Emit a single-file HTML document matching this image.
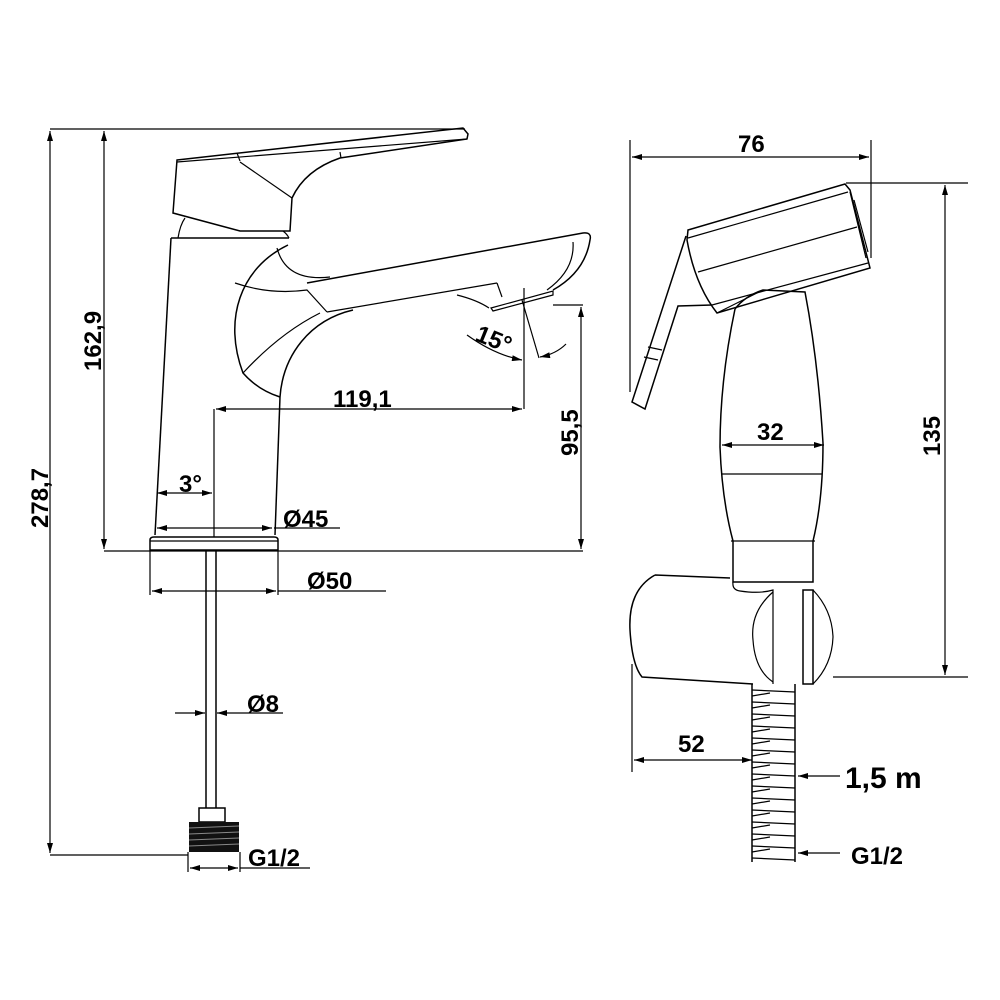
<!DOCTYPE html>
<html><head><meta charset="utf-8"><style>
html,body{margin:0;padding:0;background:#fff;}
svg{display:block;}
text{font-family:"Liberation Sans",sans-serif;font-weight:bold;fill:#000;}
</style></head><body>
<svg width="1000" height="1000" viewBox="0 0 1000 1000" xmlns="http://www.w3.org/2000/svg">
<defs>
<marker id="a" viewBox="0 0 10 6" refX="10" refY="3" markerWidth="14" markerHeight="6" markerUnits="userSpaceOnUse" orient="auto-start-reverse"><path d="M0,0 L10,3 L0,6 Z" fill="#000"/></marker>
</defs>
<g fill="none" stroke="#000" stroke-width="1.2">
<line x1="50" y1="129" x2="465" y2="129"/>
<line x1="104" y1="551" x2="583" y2="551"/>
<line x1="50" y1="855" x2="188" y2="855"/>
<line x1="214" y1="409" x2="214" y2="537"/>
<line x1="340" y1="528" x2="274" y2="528"/>
<line x1="150" y1="551" x2="150" y2="595"/>
<line x1="278" y1="551" x2="278" y2="595"/>
<line x1="278" y1="591" x2="386" y2="591"/>
<line x1="188" y1="852" x2="188" y2="872"/>
<line x1="240" y1="852" x2="240" y2="872"/>
<line x1="240" y1="868" x2="310" y2="868"/>
<line x1="583" y1="305" x2="553" y2="305"/>
<line x1="50" y1="131" x2="50" y2="853" marker-start="url(#a)" marker-end="url(#a)"/>
<line x1="104" y1="131" x2="104" y2="549" marker-start="url(#a)" marker-end="url(#a)"/>
<line x1="581" y1="307" x2="581" y2="549" marker-start="url(#a)" marker-end="url(#a)"/>
<line x1="216" y1="409" x2="522" y2="409" marker-start="url(#a)" marker-end="url(#a)"/>
<line x1="157" y1="493" x2="212" y2="493" marker-start="url(#a)" marker-end="url(#a)"/>
<line x1="157" y1="528" x2="272" y2="528" marker-start="url(#a)" marker-end="url(#a)"/>
<line x1="152" y1="591" x2="276" y2="591" marker-start="url(#a)" marker-end="url(#a)"/>
<line x1="175" y1="713" x2="205" y2="713" marker-end="url(#a)"/>
<line x1="283" y1="713" x2="217" y2="713" marker-end="url(#a)"/>
<line x1="190" y1="868" x2="238" y2="868" marker-start="url(#a)" marker-end="url(#a)"/>
<line x1="524" y1="288" x2="524" y2="409"/>
<line x1="522" y1="300" x2="539" y2="358"/>
<path d="M467,335 Q495,355 522,360" marker-end="url(#a)"/>
<path d="M566,344 Q556,354 540,357" marker-end="url(#a)"/>
<path d="M177,160 L463,128 L468,134 L467,139 L340,158 Q305,170 292,198 L290,231 L240,231 L173,213 Z" stroke-width="1.5"/>
<line x1="177" y1="162" x2="467" y2="139"/>
<line x1="237" y1="153" x2="240" y2="161"/>
<line x1="340" y1="152" x2="341" y2="158"/>
<line x1="240" y1="162" x2="292" y2="198"/>
<path d="M178,238 Q180,225 185,218"/>
<path d="M283,231 Q287,234 289,238"/>
<path d="M171,238 L289,238" stroke-width="1.5"/>
<path d="M171,238 L155,535" stroke-width="1.5"/>
<path d="M280,397 L275,535" stroke-width="1.5"/>
<path d="M288,245 C240,268 223,320 243,373 Q258,390 280,397" stroke-width="1.5"/>
<path d="M277,248 Q286,282 330,277"/>
<path d="M235,283 Q270,295 307,290 L327,312"/>
<path d="M307,283 L583,233 Q592,232 590,240 Q585,272 553,290" stroke-width="1.5"/>
<path d="M573,242 Q575,270 547,290"/>
<path d="M327,312 L497,283"/>
<path d="M497,283 L502,297"/>
<path d="M457,295 Q477,300 489,308"/>
<path d="M491,308 L553,291 L553,295 L493,311 Z"/>
<path d="M320,313 Q280,333 243,373"/>
<path d="M353,310 C310,320 283,355 280,397" stroke-width="1.5"/>
<path d="M150,550 L150,540 Q150,537 154,537 L274,537 Q278,537 278,540 L278,550 Z" stroke-width="1.5"/>
<line x1="150" y1="541" x2="278" y2="541"/>
<line x1="206" y1="551" x2="206" y2="808" stroke-width="1.5"/>
<line x1="216" y1="551" x2="216" y2="808" stroke-width="1.5"/>
<rect x="199" y="808" width="26" height="14" stroke-width="1.5"/>
</g>
<rect x="189" y="822" width="50" height="30" fill="#111"/>
<g stroke="#888" stroke-width="1">
<line x1="189" y1="828" x2="239" y2="826"/><line x1="189" y1="834" x2="239" y2="832"/><line x1="189" y1="840" x2="239" y2="838"/><line x1="189" y1="846" x2="239" y2="844"/>
</g>
<g font-size="24">
<text transform="translate(48,528) rotate(-90)">278,7</text>
<text transform="translate(101,371) rotate(-90)">162,9</text>
<text transform="translate(578,456) rotate(-90)">95,5</text>
<text x="333" y="407">119,1</text>
<text x="179" y="492">3°</text>
<text x="283" y="527">Ø45</text>
<text x="307" y="589">Ø50</text>
<text x="247" y="712">Ø8</text>
<text x="248" y="866">G1/2</text>
<text transform="translate(474,340) rotate(22)">15°</text>
</g>
<!-- SHOWER -->
<g fill="none" stroke="#000" stroke-width="1.2">
<line x1="630" y1="140" x2="630" y2="392"/>
<line x1="871" y1="140" x2="871" y2="258"/>
<line x1="632" y1="157" x2="869" y2="157" marker-start="url(#a)" marker-end="url(#a)"/>
<line x1="846" y1="183" x2="968" y2="183"/>
<line x1="833" y1="677" x2="968" y2="677"/>
<line x1="945" y1="185" x2="945" y2="675" marker-start="url(#a)" marker-end="url(#a)"/>
<line x1="722" y1="445" x2="824" y2="445" marker-start="url(#a)" marker-end="url(#a)"/>
<line x1="632" y1="664" x2="632" y2="772"/>
<line x1="634" y1="760" x2="752" y2="760" marker-start="url(#a)" marker-end="url(#a)"/>
<line x1="840" y1="776" x2="798" y2="776" marker-end="url(#a)"/>
<line x1="840" y1="853" x2="798" y2="853" marker-end="url(#a)"/>
<!-- head -->
<path d="M688,230 L845,184 L850,190 L870,268 L717,313 Q695,285 687,240 Z" stroke-width="1.5"/>
<line x1="688" y1="238" x2="848" y2="192"/>
<line x1="698" y1="272" x2="857" y2="227"/>
<line x1="712" y1="305" x2="868" y2="263"/>
<line x1="850" y1="192" x2="866" y2="258"/>
<line x1="854" y1="200" x2="868" y2="252"/>
<path d="M686,236 L632,402 L645,409 L678,306 L712,305" stroke-width="1.5"/>
<line x1="648" y1="347" x2="662" y2="350"/>
<line x1="644" y1="357" x2="658" y2="360"/>
<!-- body -->
<path d="M735,309 Q720,380 720,447 Q722,500 733,541 L733,582 L813,582 L813,541 Q823,500 823,443 Q818,360 805,292 L763,290 Q745,296 735,309" stroke-width="1.5"/>
<path d="M717,313 Q735,304 763,290"/>
<line x1="721" y1="474" x2="822" y2="474"/>
<line x1="731" y1="541" x2="815" y2="541"/>
<!-- holder -->
<path d="M655,575 L730,578 M655,575 Q628,590 630,630 Q632,665 642,677 L753,684" stroke-width="1.5"/>
<path d="M733,582 Q732,590 740,591 Q760,594 773,590 L773,684"/>
<path d="M773,592 Q750,612 753,640 Q755,670 773,682"/>
<path d="M803,590 L813,590 L813,684 L803,684 Z" stroke-width="1.5"/>
<path d="M813,590 Q832,610 833,637 Q832,665 813,684"/>
<!-- hose -->
<line x1="752" y1="684" x2="752" y2="862" stroke-width="1.5"/>
<line x1="795" y1="684" x2="795" y2="862" stroke-width="1.5"/>
<path d="M752,690 L795,692 M752,702 L795,704 M752,714 L795,716 M752,726 L795,728 M752,738 L795,740 M752,750 L795,752 M752,762 L795,764 M752,774 L795,776 M752,786 L795,788 M752,798 L795,800 M752,810 L795,812 M752,822 L795,824 M752,834 L795,836 M752,846 L795,848 M752,858 L795,860"/>
<path d="M752,696 L770,693 M752,708 L770,705 M752,720 L770,717 M752,732 L770,729 M752,744 L770,741 M752,756 L770,753 M752,768 L770,765 M752,780 L770,777 M752,792 L770,789 M752,804 L770,801 M752,816 L770,813 M752,828 L770,825 M752,840 L770,837 M752,852 L770,849"/>
</g>
<g font-size="24">
<text x="738" y="152">76</text>
<text transform="translate(940,456) rotate(-90)">135</text>
<text x="757" y="440">32</text>
<text x="678" y="752">52</text>
<text x="851" y="864">G1/2</text>
<text x="845" y="788" font-size="30">1,5 m</text>
</g>
</svg>
</body></html>
